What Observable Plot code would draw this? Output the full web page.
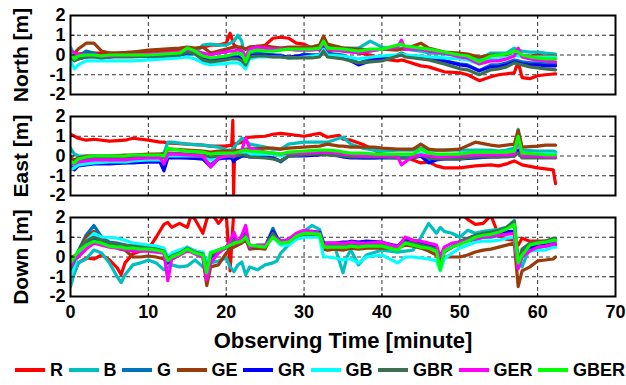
<!DOCTYPE html>
<html><head><meta charset="utf-8">
<script src="https://cdn.jsdelivr.net/npm/d3@7"></script>
<script src="https://cdn.jsdelivr.net/npm/@observablehq/plot@0.6"></script>
<style>
body{margin:0;background:#fff;font-family:"Liberation Sans",Arial,sans-serif;}
#chart{width:626px;height:355px;}
#legend{display:flex;align-items:center;height:30px;padding-left:15px;font-weight:700;font-size:18px;color:#000;}
.item{display:flex;align-items:center;margin-right:5.5px;}
.sw{width:30px;height:4px;margin-right:5px;}
</style></head><body><div id="chart"></div><div id="legend"></div>
<script>
const seriesNames = ["R","B","G","GE","GR","GB","GBR","GER","GBER"];
const seriesColors = ["#ff0000","#00bfbf","#0072bd","#9a3b0a","#0000ff","#00ffff","#3c6e50","#ff00ff","#00ff00"];
const panels = ["North","East","Down"];
const panelLabels = ["North [m]","East [m]","Down [m]"];
const xTicks = [0,10,20,30,40,50,60,70];
const yTicks = [-2,-1,0,1,2];
const xLabel = "Observing Time [minute]";

// ---- North ----
const tNorth = [0,0.5,1,2,3,4,5,6,8,10, 12,14,15,16,17,18,19,20,20.5,21, 21.5,22,22.5,23,24,25,26,27,28,29, 30,31,32,32.5,33,35,37,38.5,40,42, 42.5,43,45,46,48,50,51,52.5,54,55, 56,57,57.5,58,59,60,61,62.3];
const northR = [0.15,0.1,0.05,0.1,0.1,0.1,0.1,0.1,0.15,0.15, 0.2,0.3,0.35,0.3,0.4,0.5,0.5,0.6,1.1,0.5, 0.4,0.3,0.3,0.4,0.4,0.5,0.85,0.9,0.85,0.6, 0.55,0.35,0.25,0.3,0.2,0.35,0.1,0.0,-0.2,-0.3, -0.25,-0.3,-0.55,-0.6,-0.85,-0.9,-1.0,-1.3,-1.1,-1.0, -0.95,-0.9,-0.35,-1.15,-1.2,-1.05,-1.0,-0.95];
const northB = [0.4,0.0,-0.1,-0.1,-0.1,-0.05,-0.05,-0.05,-0.05,-0.05, 0.0,0.0,0.0,0.1,0.5,0.55,0.5,0.5,0.6,0.7, 1.0,0.7,-0.6,0.1,0.2,0.2,0.3,0.35,0.3,0.35, 0.4,0.4,0.5,0.9,0.5,0.35,0.35,0.7,0.4,0.3, 0.35,0.3,0.2,0.1,0.05,0.0,-0.05,-0.2,0.1,0.1, 0.1,0.35,0.25,0.2,0.15,0.15,0.1,0.05];
const northG = [0.0,-0.2,-0.1,0.2,0.1,-0.1,-0.1,-0.05,-0.05,-0.05, -0.05,0.0,0.2,0.1,-0.2,-0.3,-0.2,-0.15,-0.1,-0.1, -0.1,-0.2,-0.5,0.0,0.1,0.05,0.0,0.0,-0.15,-0.1, 0.05,0.0,0.0,0.5,0.1,0.0,-0.4,-0.2,-0.1,0.0, 0.1,0.0,-0.1,-0.15,-0.3,-0.45,-0.5,-0.8,-0.5,-0.5, -0.4,-0.25,-0.3,-0.35,-0.4,-0.4,-0.45,-0.45];
const northGE = [0.0,0.1,0.3,0.6,0.6,0.2,0.1,0.1,0.15,0.25, 0.3,0.35,0.4,0.35,0.4,0.1,0.2,0.3,0.35,0.4, 0.4,0.4,0.3,0.4,0.45,0.45,0.4,0.35,0.4,0.4, 0.4,0.4,0.5,0.95,0.55,0.35,0.3,0.25,0.3,0.25, 0.3,0.3,0.6,0.35,0.15,0.1,0.05,-0.1,0.0,0.0, 0.0,0.0,0.05,-0.05,-0.05,0.0,-0.05,-0.05];
const northGR = [0.0,-0.2,-0.2,-0.1,-0.05,-0.1,-0.1,-0.05,-0.05,-0.05, -0.05,0.0,0.1,0.05,-0.1,-0.25,-0.2,-0.15,-0.15,-0.1, -0.1,-0.2,-0.4,-0.05,0.0,0.0,0.0,-0.05,-0.1,-0.05, 0.0,0.0,0.0,0.4,0.0,-0.1,-0.5,-0.3,-0.2,-0.05, 0.0,-0.05,-0.1,-0.15,-0.3,-0.5,-0.55,-0.8,-0.6,-0.6, -0.5,-0.35,-0.4,-0.45,-0.5,-0.5,-0.55,-0.55];
const northGB = [-0.3,-0.7,-0.5,-0.3,-0.3,-0.3,-0.3,-0.3,-0.3,-0.25, -0.2,-0.15,-0.1,-0.2,-0.4,-0.5,-0.45,-0.45,-0.4,-0.4, -0.4,-0.5,-0.7,-0.2,-0.1,-0.1,-0.1,-0.1,-0.15,-0.15, -0.1,-0.05,0.0,0.3,0.0,-0.05,-0.2,-0.1,-0.05,0.0, 0.05,0.0,-0.05,-0.1,-0.15,-0.2,-0.25,-0.45,-0.2,-0.2, -0.15,0.0,-0.05,-0.05,-0.1,-0.1,-0.1,-0.1];
const northGBR = [-0.1,-0.3,-0.2,-0.1,-0.1,-0.15,-0.1,-0.1,-0.1,-0.05, -0.05,0.0,0.15,0.05,-0.25,-0.35,-0.3,-0.25,-0.2,-0.2, -0.2,-0.3,-0.5,-0.1,-0.05,-0.05,-0.1,-0.1,-0.15,-0.15, -0.15,-0.15,-0.1,0.2,-0.1,-0.2,-0.4,-0.35,-0.3,-0.05, 0.0,-0.1,-0.2,-0.25,-0.45,-0.7,-0.75,-1.0,-0.75,-0.7, -0.6,-0.4,-0.45,-0.5,-0.6,-0.65,-0.7,-0.75];
const northGER = [0.2,0.1,0.0,0.0,0.0,-0.05,-0.05,0.0,0.0,0.05, 0.1,0.15,0.3,0.2,0.1,0.0,0.1,0.15,0.2,0.2, 0.25,0.2,-0.1,0.3,0.4,0.35,0.3,0.3,0.3,0.25, 0.25,0.25,0.3,0.6,0.3,0.2,0.1,0.2,0.3,0.4, 0.75,0.3,0.3,0.2,0.1,-0.1,-0.15,-0.45,-0.3,-0.3, -0.2,-0.05,0.35,-0.1,-0.2,-0.25,-0.3,-0.35];
const northGBER = [0.1,-0.2,-0.05,0.0,0.0,-0.05,0.0,0.0,0.0,0.0, 0.05,0.1,0.35,0.2,-0.05,-0.15,-0.1,-0.05,0.0,0.05, 0.1,0.05,-0.35,0.15,0.25,0.2,0.2,0.25,0.3,0.3, 0.3,0.3,0.35,0.7,0.35,0.3,0.2,0.3,0.3,0.5, 0.55,0.45,0.35,0.3,0.15,0.0,-0.05,-0.35,-0.05,0.0, 0.05,0.2,0.15,0.0,-0.1,-0.15,-0.2,-0.2];

// ---- East ----
const tEast = [0,0.5,1,2,3,5,7,8,10,11.5, 12,12.5,13,15,17,18,19,20,20.7,20.85, 20.95,21.1,22,22.5,23,25,26,27,28,30, 32,33,34.5,35,36,37.5,39,40,42,42.5, 44,45,46,47,48,50,52,54,55,56, 57,57.5,58,60,61,62,62.3];
const eastR = [1.1,1.0,0.9,0.8,0.85,0.75,0.8,0.9,0.8,0.7, 0.7,0.65,0.65,0.6,0.55,0.5,0.5,0.5,0.55,1.8, -1.9,0.6,0.7,0.9,0.95,1.0,1.1,1.15,1.1,1.0, 1.15,0.95,1.05,0.85,0.8,0.6,0.3,0.1,0.0,0.0, -0.2,-0.35,-0.3,-0.5,-0.6,-0.6,-0.5,-0.45,-0.5,-0.4, -0.25,-0.35,-0.45,-0.6,-0.65,-0.7,-1.4];
const eastB = [0.4,0.1,0.0,0.0,0.0,0.0,0.0,0.05,0.05,0.1, 0.15,0.7,0.7,0.6,0.55,0.5,0.45,0.3,0.3,0.35, 0.4,0.5,0.9,0.8,0.6,0.45,0.35,0.35,0.6,0.7, 0.7,0.7,0.9,0.95,0.6,0.4,0.3,0.25,0.3,0.3, 0.3,0.4,0.3,0.3,0.3,0.3,0.3,0.3,0.25,0.3, 0.4,1.35,0.3,0.25,0.25,0.25,0.2];
const eastG = [-0.5,-0.6,-0.45,-0.4,-0.35,-0.35,-0.35,-0.3,-0.3,-0.3, -0.65,-0.05,-0.05,-0.1,-0.15,-0.45,-0.1,-0.1,-0.1,-0.15, -0.2,-0.15,0.0,0.0,0.0,-0.05,-0.1,-0.3,0.0,0.05, 0.1,0.1,0.05,0.0,-0.05,-0.1,-0.1,-0.05,-0.05,-0.05, -0.05,0.0,-0.2,-0.1,-0.1,-0.1,-0.05,0.0,0.0,0.0, 0.05,0.3,0.0,0.0,0.0,0.0,0.0];
const eastGE = [-0.1,-0.2,-0.1,0.0,0.0,0.0,0.05,0.05,0.1,0.1, 0.1,0.35,0.35,0.3,0.25,0.2,0.25,0.25,0.25,0.25, 0.25,0.25,0.3,0.35,0.35,0.4,0.4,0.35,0.4,0.45, 0.5,0.6,0.5,0.5,0.45,0.45,0.45,0.4,0.35,0.35, 0.35,0.6,0.35,0.3,0.3,0.35,0.7,0.55,0.5,0.55, 0.6,1.3,0.45,0.5,0.55,0.55,0.55];
const eastGR = [-0.6,-0.7,-0.5,-0.45,-0.4,-0.4,-0.35,-0.35,-0.3,-0.3, -0.75,-0.1,-0.1,-0.1,-0.15,-0.55,-0.15,-0.1,-0.1,-0.2, -0.3,-0.2,0.0,0.0,-0.05,-0.05,-0.1,-0.25,0.0,0.0, 0.05,0.1,0.0,-0.05,-0.1,-0.1,-0.1,-0.1,-0.1,-0.1, -0.1,0.0,-0.35,-0.2,-0.15,-0.15,-0.1,-0.05,-0.05,0.0, 0.0,0.3,-0.05,-0.05,-0.05,-0.05,-0.05];
const eastGB = [-0.7,-0.6,-0.45,-0.4,-0.35,-0.3,-0.3,-0.25,-0.2,-0.2, -0.3,0.0,0.0,0.0,0.0,-0.2,0.0,0.0,0.0,0.0, 0.0,0.05,0.2,0.15,0.1,0.1,0.1,0.0,0.1,0.15, 0.2,0.2,0.1,0.1,0.05,0.0,0.05,0.05,0.05,0.05, 0.05,0.15,0.05,0.05,0.05,0.1,0.15,0.15,0.15,0.15, 0.2,0.6,0.15,0.1,0.1,0.1,0.1];
const eastGBR = [-0.3,-0.4,-0.2,-0.15,-0.1,-0.1,-0.1,-0.05,-0.05,0.0, -0.1,0.15,0.15,0.1,0.05,-0.05,0.0,0.0,0.0,-0.05, -0.05,0.0,0.05,0.05,-0.05,-0.1,-0.15,-0.25,0.0,0.05, 0.1,0.05,0.0,0.0,-0.05,-0.05,-0.05,-0.05,-0.1,-0.1, -0.1,0.05,-0.1,-0.15,-0.15,-0.15,-0.05,-0.05,-0.05,-0.05, 0.0,0.15,-0.1,-0.1,-0.1,-0.1,-0.1];
const eastGER = [-0.3,-0.4,-0.3,-0.25,-0.2,-0.2,-0.2,-0.15,-0.1,-0.1, -0.4,0.1,0.1,0.05,0.0,-0.55,-0.1,0.0,0.05,0.05, 0.0,0.1,0.3,0.9,0.4,0.2,0.15,0.1,0.15,0.15, 0.2,0.2,0.15,0.1,0.05,0.0,0.0,0.0,0.0,-0.45, 0.0,0.05,0.0,-0.05,-0.05,0.0,0.05,0.05,0.05,0.05, 0.1,0.95,0.0,0.0,-0.05,-0.05,-0.05];
const eastGBER = [-0.3,-0.35,-0.15,-0.05,0.0,0.0,0.0,0.05,0.05,0.05, 0.0,0.4,0.35,0.25,0.2,0.1,0.15,0.15,0.15,0.15, 0.15,0.15,0.25,0.3,0.25,0.2,0.15,0.1,0.2,0.25, 0.3,0.3,0.25,0.2,0.15,0.15,0.1,0.1,0.1,0.1, 0.1,0.35,0.15,0.1,0.1,0.1,0.2,0.2,0.2,0.2, 0.25,1.0,0.15,0.1,0.05,0.05,0.05];

// ---- Down ----
const tDown = [0,0.5,1,2,3,4,5,6,6.5,7, 8,9,10,11,12,12.5,13,14,15,15.5, 16,17,17.5,18,19,20,20.5,21,21.5,22, 22.5,23,24,25,26,26.5,27,28,29,30, 31,32,32.5,33,34,35,35.5,36,37,38, 40,42,43,44,45,46,47,47.5,48,49, 50,51,52,53,54,55,56,57,57.5,58, 59,60,61,62,62.3];
const downR = [-1.2,-0.8,-0.3,-0.05,-0.1,0.1,-0.15,-0.55,-0.9,-0.3, 0.15,0.3,0.4,1.0,1.65,1.75,1.5,1.7,1.5,2.1, 1.9,1.2,1.9,2.3,1.7,2.2,-0.7,2.5,2.5,2.5, 2.5,2.5,2.5,2.5,2.5,2.5,2.5,2.5,2.5,2.5, 2.5,2.5,2.5,2.5,2.5,2.5,2.5,2.5,2.5,2.5, 2.5,2.5,2.5,2.5,2.5,2.5,2.5,2.5,2.5,2.5, 2.3,1.9,1.65,1.7,2.1,1.1,0.9,0.85,0.6,0.95, 0.8,0.8,0.8,0.8,0.8];
const downB = [-1.5,-0.8,-0.3,-0.1,0.35,0.2,-0.3,-1.0,-1.3,-0.9, -0.4,-0.3,-0.15,-0.3,-0.65,-0.5,-0.4,-0.5,-0.45,-0.3, -0.15,-0.5,-0.65,-0.3,-0.2,-0.05,-0.5,-0.75,-0.4,-0.25, -0.9,-0.5,-0.65,-0.4,-0.3,-0.2,0.2,0.6,1.0,1.3, 1.6,1.4,0.7,0.6,0.45,-0.8,0.0,0.35,-0.4,0.1, 0.35,0.25,0.3,0.35,1.0,1.7,1.2,1.5,1.3,1.2, 1.0,1.35,1.2,1.3,1.35,1.4,1.5,1.85,-0.3,-0.5, 0.5,0.35,0.7,0.7,0.75];
const downG = [-0.8,-0.3,0.3,1.1,1.6,1.0,0.75,0.7,0.65,0.6, 0.5,0.5,0.5,0.45,0.3,-0.05,0.1,0.2,0.5,0.4, 0.3,0.2,-0.55,0.1,0.3,0.45,0.6,0.7,0.7,0.8, 1.0,0.5,0.55,0.5,1.45,1.0,0.8,0.8,1.1,1.2, 1.25,1.2,0.6,0.6,0.6,0.65,0.65,0.7,0.65,0.7, 0.7,0.5,0.85,0.8,0.7,0.6,0.5,-0.2,0.3,0.5, 0.7,0.8,0.9,1.0,1.0,1.1,1.2,1.3,-0.4,0.1, 0.4,0.5,0.55,0.6,0.6];
const downGE = [0.0,0.05,0.2,1.0,1.3,0.9,0.6,0.45,0.4,0.35, 0.0,0.0,0.05,0.0,-0.1,-0.3,-0.1,0.1,0.4,0.3, 0.2,0.0,-1.45,-0.5,-0.4,0.2,0.4,0.5,0.6,0.7, 0.9,0.4,0.45,0.4,1.2,0.9,0.7,0.7,1.0,1.1, 1.15,1.1,0.4,0.35,0.4,0.35,0.4,0.45,0.4,0.45, 0.45,0.45,0.6,0.55,0.45,0.3,0.1,-0.25,0.0,0.0, 0.0,0.1,0.25,0.35,0.4,0.5,0.6,0.7,-1.5,-0.7, -0.5,-0.2,-0.15,-0.1,0.0];
const downGR = [-0.9,-0.4,0.2,0.7,0.9,0.8,0.6,0.55,0.5,0.5, 0.4,0.4,0.35,0.35,0.2,-0.3,0.0,0.15,0.4,0.3, 0.2,0.1,-0.7,0.0,0.3,0.5,0.7,0.9,0.8,0.9, 1.2,0.5,0.55,0.55,1.3,1.0,0.8,0.85,1.1,1.25, 1.3,1.25,0.7,0.7,0.7,0.75,0.75,0.8,0.75,0.8, 0.75,0.55,0.9,0.85,0.75,0.65,0.5,-0.3,0.3,0.5, 0.7,0.85,1.0,1.05,1.1,1.2,1.3,1.3,-0.3,0.3, 0.5,0.55,0.6,0.65,0.65];
const downGB = [-1.0,-0.5,0.2,0.8,1.2,1.0,1.0,0.95,0.9,0.85, 0.7,0.65,0.6,0.55,0.45,0.0,0.2,0.35,0.5,0.4, 0.3,0.25,-0.35,0.25,0.35,0.5,0.7,0.8,0.8,0.9, 1.1,0.55,0.6,0.6,1.0,0.8,0.6,0.6,0.9,1.0, 1.0,1.0,0.0,0.0,-0.05,-0.15,-0.1,-0.1,-0.3,0.0, 0.1,-0.3,0.0,0.0,-0.05,-0.1,-0.2,-0.7,-0.1,0.2, 0.45,0.6,0.75,0.8,0.8,0.85,0.95,1.0,-0.5,0.0, 0.3,0.35,0.35,0.5,0.5];
const downGBR = [-0.6,-0.2,0.3,0.8,1.0,0.85,0.7,0.65,0.6,0.6, 0.55,0.5,0.45,0.4,0.3,-0.1,0.05,0.2,0.45,0.35, 0.25,0.15,-0.6,0.05,0.35,0.5,0.7,0.85,0.8,0.9, 1.1,0.5,0.55,0.55,1.2,0.95,0.75,0.8,1.05,1.2, 1.25,1.2,0.55,0.55,0.55,0.6,0.6,0.65,0.6,0.65, 0.65,0.45,0.75,0.7,0.6,0.5,0.4,-0.45,0.25,0.5, 0.8,0.95,1.1,1.2,1.25,1.35,1.5,1.8,-0.3,0.4, 0.7,0.75,0.8,0.95,0.95];
const downGER = [-0.5,-0.1,0.0,0.4,0.7,0.6,0.5,0.45,0.4,0.4, 0.3,0.3,0.3,0.25,0.2,-1.2,-0.1,0.1,0.3,0.25, 0.15,0.0,-1.15,-0.3,0.2,0.5,0.8,1.25,0.7,1.1, 1.6,0.5,0.6,0.6,1.0,0.9,0.8,0.9,1.2,1.35, 1.3,1.2,0.6,0.7,0.7,0.7,0.7,0.75,0.7,0.7, 0.75,0.5,1.0,0.85,0.8,0.7,0.6,0.0,0.5,0.7, 0.75,0.85,0.9,1.0,1.05,1.1,1.15,1.2,-0.6,0.0, 0.3,0.5,0.55,0.65,0.65];
const downGBER = [-0.3,0.0,0.3,0.6,0.8,0.7,0.55,0.5,0.5,0.45, 0.45,0.4,0.4,0.35,0.25,-0.2,0.0,0.15,0.4,0.3, 0.2,0.1,-0.8,0.2,0.35,0.5,0.6,0.7,0.75,0.8, 1.0,0.6,0.55,0.5,1.0,0.85,0.7,0.75,1.05,1.2, 1.2,1.15,0.5,0.5,0.5,0.5,0.5,0.55,0.5,0.55, 0.55,0.35,0.7,0.6,0.5,0.45,0.3,-0.65,0.3,0.5, 0.65,0.8,1.0,1.1,1.15,1.25,1.4,1.65,-0.3,0.1, 0.6,0.7,0.75,0.85,0.85];

const panelTimes = [tNorth, tEast, tDown];
const panelValues = [
  [northR,northB,northG,northGE,northGR,northGB,northGBR,northGER,northGBER],
  [eastR,eastB,eastG,eastGE,eastGR,eastGB,eastGBR,eastGER,eastGBER],
  [downR,downB,downG,downGE,downGR,downGB,downGBR,downGER,downGBER]
];

const rows = [];
panels.forEach((p, pi) => {
  const t = panelTimes[pi];
  seriesNames.forEach((s, si) => {
    const v = panelValues[pi][si];
    if (v.length !== t.length) console.warn("length mismatch", p, s, v.length, t.length);
    const n = Math.min(v.length, t.length);
    for (let i = 0; i < n; i++) rows.push({panel: p, series: s, t: t[i], v: v[i]});
  });
});

const font = '"Liberation Sans", Arial, Helvetica, sans-serif';
const tickStyle = {stroke: "#000", strokeWidth: 1};
const chart = Plot.plot({
  width: 626, height: 355,
  marginLeft: 70, marginRight: 11, marginTop: 14, marginBottom: 58,
  style: {fontFamily: font, fontWeight: "bold", fontSize: "17px", color: "#000", background: "#fff", overflow: "visible"},
  x: {domain: [0, 70]},
  y: {domain: [-2, 2]},
  fy: {domain: panels, paddingInner: 0.221, paddingOuter: 0, axis: null, label: null},
  color: {domain: seriesNames, range: seriesColors},
  marks: [
    Plot.gridX(xTicks.slice(1, -1), {stroke: "#333", strokeOpacity: 1, strokeWidth: 1, strokeDasharray: "4,3"}),
    Plot.gridY(yTicks.slice(1, -1), {stroke: "#333", strokeOpacity: 1, strokeWidth: 1, strokeDasharray: "4,3"}),
    Plot.line(rows, {x: "t", y: "v", z: "series", stroke: "series", fy: "panel", strokeWidth: 3.2, strokeLinejoin: "round", clip: true}),
    Plot.ruleY(yTicks, {x1: 0, x2: 0.6, ...tickStyle}),
    Plot.ruleY(yTicks, {x1: 69.4, x2: 70, ...tickStyle}),
    Plot.ruleX(xTicks, {y1: -2, y2: -1.85, ...tickStyle}),
    Plot.ruleX(xTicks, {y1: 1.85, y2: 2, ...tickStyle}),
    Plot.frame({stroke: "#000", strokeWidth: 2}),
    Plot.axisY(yTicks, {tickSize: 0, tickPadding: 5, tickFormat: d => String(d), label: null, fontSize: 18, fontWeight: "bold"}),
    Plot.axisX(xTicks, {tickSize: 0, tickPadding: 9, tickFormat: d => String(d), label: null, fontSize: 18, fontWeight: "bold"}),
    Plot.text(panels, {fy: d => d, text: (d, i) => panelLabels[i], frameAnchor: "left", textAnchor: "middle", rotate: -90, dx: -49, fontSize: 21, fontWeight: "bold"}),
    Plot.text([xLabel], {fy: () => "Down", text: d => d, frameAnchor: "bottom", textAnchor: "middle", dy: 51, fontSize: 22, fontWeight: "bold"})
  ]
});
document.getElementById("chart").appendChild(chart);

const legend = document.getElementById("legend");
seriesNames.forEach((s, i) => {
  const item = document.createElement("div");
  item.className = "item";
  const sw = document.createElement("div");
  sw.className = "sw";
  sw.style.background = seriesColors[i];
  const lab = document.createElement("span");
  lab.textContent = s;
  item.appendChild(sw); item.appendChild(lab);
  legend.appendChild(item);
});
</script></body></html>
